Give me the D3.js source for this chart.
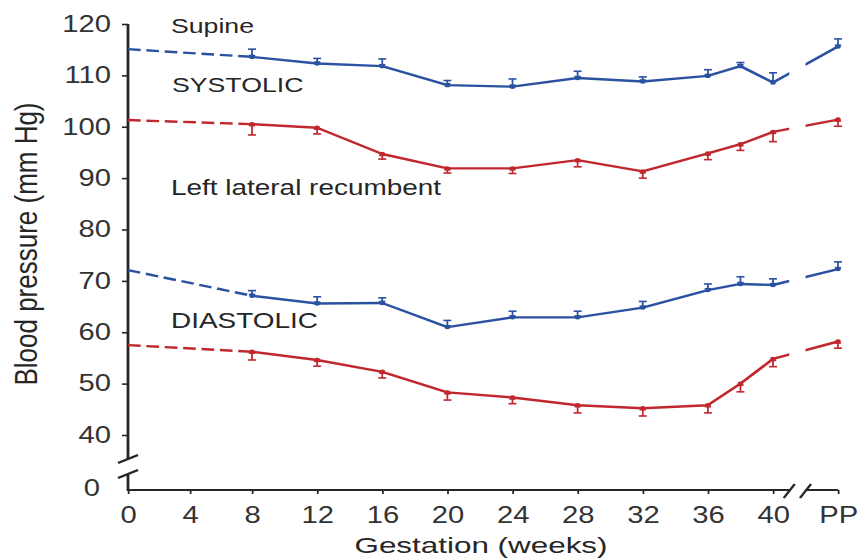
<!DOCTYPE html>
<html>
<head>
<meta charset="utf-8">
<script src="https://cdn.jsdelivr.net/npm/d3@7"></script>
<style>
  html, body { margin: 0; padding: 0; background: #fff; }
  svg { display: block; }
</style>
</head>
<body>
<div id="chart"></div>
<script>
// gestation weeks of each measurement, 44 stands in for the post partum (PP) column
const weeks = [0, 8, 12, 16, 20, 24, 28, 32, 36, 38, 40, 44];
const xTickValues = [0, 4, 8, 12, 16, 20, 24, 28, 32, 36, 40, 44];
const xTickLabels = ["0", "4", "8", "12", "16", "20", "24", "28", "32", "36", "40", "PP"];
const yTickValues = [40, 50, 60, 70, 80, 90, 100, 110, 120];

// supine (blue) and left lateral recumbent (red), mm Hg
const supineSystolic = [115.1, 113.6, 112.3, 111.8, 108.1, 107.8, 109.5, 108.8, 109.9, 111.8, 108.6, 115.6];
const supineSystolicErr = [null, 1.5, 1.0, 1.4, 0.9, 1.5, 1.3, 0.9, 1.2, 0.7, 1.9, 1.5];
const lateralSystolic = [101.3, 100.5, 99.8, 94.7, 91.9, 91.9, 93.5, 91.3, 94.8, 96.6, 99.0, 101.4];
const lateralSystolicErr = [null, 2.1, 1.2, 1.0, 0.9, 1.0, 1.3, 1.3, 1.2, 1.2, 1.9, 1.3];
const supineDiastolic = [72.1, 67.1, 65.6, 65.7, 61.0, 62.9, 62.9, 64.8, 68.2, 69.4, 69.2, 72.3];
const supineDiastolicErr = [null, 1.0, 1.3, 1.0, 1.3, 1.2, 1.2, 1.2, 1.2, 1.4, 1.2, 1.4];
const lateralDiastolic = [57.5, 56.2, 54.6, 52.3, 48.3, 47.3, 45.8, 45.2, 45.8, 50.0, 54.8, 58.2];
const lateralDiastolicErr = [null, 1.6, 1.2, 1.2, 1.5, 1.2, 1.5, 1.5, 1.5, 1.6, 1.5, 1.3];

const blue = "#2b52a0";
const red = "#c0282e";
const ink = "#262626";
const font = "'Liberation Sans', Arial, Helvetica, sans-serif";

// the reference is stretched sideways, so draw in a narrower box and let the viewBox widen it
const sx = 1.27;
const vx = (p) => p / sx;
const W = 864, H = 559;

const x = d3.scaleLinear()
  .domain([0, 8, 40, 44])
  .range([128, 252, 773, 838].map(vx));

const y = d3.scaleLinear()
  .domain([40, 120])
  .range([435, 24]);

const yZero = 490;      // where the broken y axis puts 0
const yBreakTop = 459;
const yBreakBottom = 474;

const svg = d3.select("#chart").append("svg")
  .attr("width", W)
  .attr("height", H)
  .attr("viewBox", `0 0 ${vx(W)} ${H}`)
  .attr("preserveAspectRatio", "none");

svg.append("rect").attr("width", vx(W)).attr("height", H).attr("fill", "#fff");

/* y axis */
const yAxisG = svg.append("g")
  .attr("transform", `translate(${x(0)},0)`)
  .call(d3.axisLeft(y).tickValues(yTickValues).tickSize(vx(6)).tickPadding(vx(11)).tickSizeOuter(0));
yAxisG.select(".domain").remove();
yAxisG.selectAll("line").attr("stroke", ink).attr("stroke-width", 1.6);
yAxisG.selectAll("text")
  .style("font-family", font)
  .style("font-size", "23px")
  .style("fill", "#333");

// the 0 below the break
const yLow = d3.scaleLinear().domain([0, 10]).range([yZero - 2, yZero - 53]);
const yLowG = svg.append("g")
  .attr("transform", `translate(${x(0)},0)`)
  .call(d3.axisLeft(yLow).tickValues([0]).tickSize(0).tickPadding(vx(28)));
yLowG.select(".domain").remove();
yLowG.selectAll("text")
  .style("font-family", font)
  .style("font-size", "23px")
  .style("fill", "#333");

const axisLine = (x1, y1, x2, y2) => svg.append("line")
  .attr("x1", x1).attr("y1", y1).attr("x2", x2).attr("y2", y2)
  .attr("stroke", ink)
  .attr("stroke-width", 2.2);

axisLine(x(0), y(120), x(0), yBreakTop);
axisLine(x(0), yBreakBottom, x(0), yZero + 1);
axisLine(x(0) - vx(10), yBreakTop + 4, x(0) + vx(10), yBreakTop - 4).attr("stroke-width", 2);
axisLine(x(0) - vx(10), yBreakBottom + 4, x(0) + vx(10), yBreakBottom - 4).attr("stroke-width", 2);

/* x axis */
const xAxisG = svg.append("g")
  .attr("transform", `translate(0,${yZero})`)
  .call(d3.axisBottom(x).tickValues(xTickValues).tickFormat((d, i) => xTickLabels[i]).tickSize(4).tickPadding(13));
xAxisG.select(".domain").remove();
xAxisG.selectAll("line").attr("stroke", ink).attr("stroke-width", 1.4);
xAxisG.selectAll("text")
  .style("font-family", font)
  .style("font-size", "23px")
  .style("fill", "#333");

axisLine(x(0), yZero, x(41), yZero);
axisLine(x(42), yZero, x(44), yZero);
[41, 42].forEach((w) => {
  axisLine(x(w) - vx(5.5), yZero + 8, x(w) + vx(5.5), yZero - 6).attr("stroke-width", 2);
});

/* axis titles */
svg.append("text")
  .text("Gestation (weeks)")
  .attr("x", vx(481))
  .attr("y", 553)
  .attr("textLength", vx(253))
  .attr("lengthAdjust", "spacingAndGlyphs")
  .style("text-anchor", "middle")
  .style("font-family", font)
  .style("font-size", "22px")
  .style("fill", ink);

svg.append("text")
  .text("Blood pressure (mm Hg)")
  .attr("transform", `translate(${vx(37)},244) rotate(-90)`)
  .attr("textLength", 283)
  .attr("lengthAdjust", "spacingAndGlyphs")
  .style("text-anchor", "middle")
  .style("font-family", font)
  .style("font-size", "25px")
  .style("fill", ink);

/* series */
const clip = svg.append("clipPath").attr("id", "gap");
clip.append("rect").attr("x", 0).attr("y", 0).attr("width", x(41)).attr("height", H);
clip.append("rect").attr("x", x(42)).attr("y", 0).attr("width", vx(W) - x(42)).attr("height", H);

const series = [
  {values: supineSystolic, err: supineSystolicErr, colour: blue, dir: 1},
  {values: lateralSystolic, err: lateralSystolicErr, colour: red, dir: -1},
  {values: supineDiastolic, err: supineDiastolicErr, colour: blue, dir: 1},
  {values: lateralDiastolic, err: lateralDiastolicErr, colour: red, dir: -1},
];

const line = d3.line()
  .curve(d3.curveLinear)
  .x((d) => x(d.week))
  .y((d) => y(d.value));

const capHalf = vx(4);

series.forEach((s) => {
  const points = weeks.map((w, i) => ({week: w, value: s.values[i], err: s.err[i]}));
  const g = svg.append("g");

  // dashed back-extrapolation to week 0
  g.append("path")
    .attr("fill", "none")
    .attr("stroke", s.colour)
    .attr("stroke-width", 2.4)
    .attr("stroke-dasharray", "10 4.5")
    .attr("d", line(points.slice(0, 2)));

  g.append("path")
    .attr("fill", "none")
    .attr("stroke", s.colour)
    .attr("stroke-width", 2.4)
    .attr("stroke-linejoin", "round")
    .attr("clip-path", "url(#gap)")
    .attr("d", line(points.slice(1)));

  // one-sided error bars: supine up, lateral down
  const bars = g.selectAll(".bar")
    .data(points.filter((d) => d.err != null))
    .enter()
    .append("g");
  bars.append("line")
    .attr("x1", (d) => x(d.week)).attr("x2", (d) => x(d.week))
    .attr("y1", (d) => y(d.value)).attr("y2", (d) => y(d.value + s.dir * d.err))
    .attr("stroke", s.colour).attr("stroke-width", 1.4);
  bars.append("line")
    .attr("x1", (d) => x(d.week) - capHalf).attr("x2", (d) => x(d.week) + capHalf)
    .attr("y1", (d) => y(d.value + s.dir * d.err)).attr("y2", (d) => y(d.value + s.dir * d.err))
    .attr("stroke", s.colour).attr("stroke-width", 1.6);
  bars.append("line")
    .attr("x1", (d) => x(d.week) - capHalf * 0.8).attr("x2", (d) => x(d.week) + capHalf * 0.8)
    .attr("y1", (d) => y(d.value) - s.dir * 1.5).attr("y2", (d) => y(d.value) - s.dir * 1.5)
    .attr("stroke", s.colour).attr("stroke-width", 1.4);

  g.selectAll(".dot")
    .data(points.slice(1))
    .enter()
    .append("circle")
      .attr("cx", (d) => x(d.week))
      .attr("cy", (d) => y(d.value))
      .attr("r", 2.2)
      .style("fill", s.colour);
});

/* in-plot labels */
const label = (text, px, py, size) => svg.append("text")
  .text(text)
  .attr("x", vx(px))
  .attr("y", py)
  .style("font-family", font)
  .style("font-size", `${size}px`)
  .style("fill", ink);

label("Supine", 171, 33, 21);
label("SYSTOLIC", 172, 92, 21);
label("Left lateral recumbent", 171, 195, 22);
label("DIASTOLIC", 171, 328, 22);
</script>
</body>
</html>
